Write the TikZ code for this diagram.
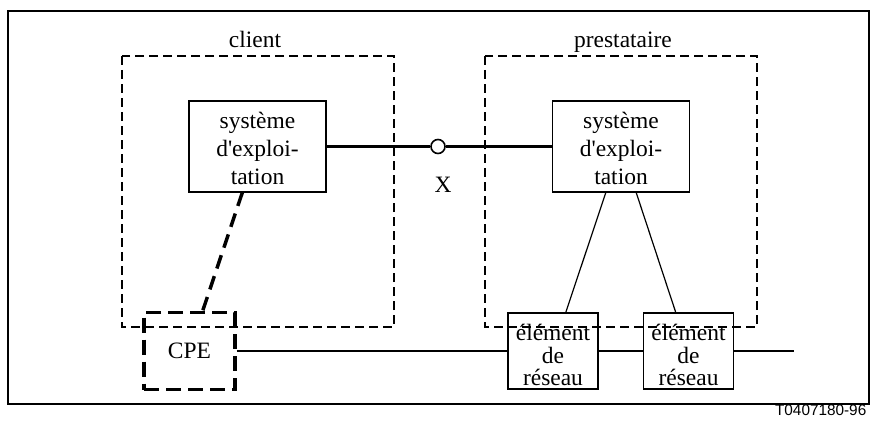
\documentclass[tikz,border=0pt]{standalone}
\usepackage{fontspec}
\setmainfont{Liberation Serif}
\newfontfamily\labelfont{Liberation Sans}
\usetikzlibrary{calc}
\begin{document}
\begin{tikzpicture}[x=0.75pt,y=-0.75pt,
  txt/.style={font=\fontsize{17.6}{21}\selectfont},
  sysbox/.style={draw,line width=1pt,minimum width=137*0.75pt,minimum height=91*0.75pt,
    inner sep=0pt},
  nebox/.style={draw,line width=1pt,minimum width=90*0.75pt,minimum height=76*0.75pt,
    inner sep=0pt},
  boxtext/.style={align=center,inner sep=0pt,txt},
  netext/.style={align=center,inner sep=0pt,font=\fontsize{17.6}{16.9}\selectfont},
  zonebox/.style={draw,line width=1.5pt,dash pattern=on 6.75pt off 3.75pt},
  cpebox/.style={draw,line width=2.6pt,dash pattern=on 11.25pt off 5.25pt,
    minimum width=91*0.75pt,minimum height=77*0.75pt,inner sep=0pt,txt},
  link/.style={line width=1.9pt},
  thinlink/.style={line width=0.9pt},
  mgmt/.style={line width=2.6pt,dash pattern=on 10.5pt off 6pt},
  refpt/.style={circle,draw,fill=white,line width=1.2pt,minimum size=14*0.75pt,inner sep=0pt}]
\useasboundingbox (0,0) rectangle (873,428);
% outer frame
\draw[line width=1.3pt] (8,11) rectangle (869,404);
% domains
\draw[zonebox] (122,56) rectangle (394,327);
\draw[zonebox] (485,56) rectangle (757,327);
\node[txt,anchor=base] (clab) at (255,47.5) {client};
\node[txt,anchor=base] (plab) at (623,47.5) {prestataire};
% operations systems
\node[sysbox] (cs) at (257.5,146.5) {};
\node[sysbox] (ps) at (621,146.5) {};
\node[boxtext] (cst) at ($(cs)+(0,2)$) {système\\d\textquotesingle exploi-\\tation};
\node[boxtext] (pst) at ($(ps)+(0,2)$) {système\\d\textquotesingle exploi-\\tation};
% reference point X
\node[refpt] (x) at (438,146.5) {};
\node[txt,anchor=base] (xlab) at (443,192) {X};
\draw[link] (cs.east) -- (x.west);
\draw[link] (x.east) -- (ps.west);
% network elements and CPE
\node[nebox] (ne1) at (553,351) {};
\node[nebox] (ne2) at (688.5,351) {};
\node[netext] (ne1t) at ($(ne1)+(0,4)$) {élément\\de\\réseau};
\node[netext] (ne2t) at ($(ne2)+(0,4)$) {élément\\de\\réseau};
\node[cpebox] (cpe) at (189.5,351) {CPE};
\coordinate (lineend) at (794,351);
\draw[link] (cpe.east) -- (ne1.west);
\draw[link] (ne1.east) -- (ne2.west);
\draw[link] (ne2.east) -- (lineend);
% management links
\draw[thinlink] ($(ps.south west)!0.39!(ps.south east)$) -- ($(ne1.north west)!0.64!(ne1.north east)$);
\draw[thinlink] ($(ps.south west)!0.61!(ps.south east)$) -- ($(ne2.north west)!0.36!(ne2.north east)$);
\draw[mgmt] ($(cs.south west)!0.39!(cs.south east)$) -- ($(cpe.north west)!0.64!(cpe.north east)$);
% figure reference
\node[font=\labelfont\fontsize{11.5}{13}\selectfont,anchor=east] (ref) at (871,410) {T0407180-96};
\end{tikzpicture}
\end{document}
